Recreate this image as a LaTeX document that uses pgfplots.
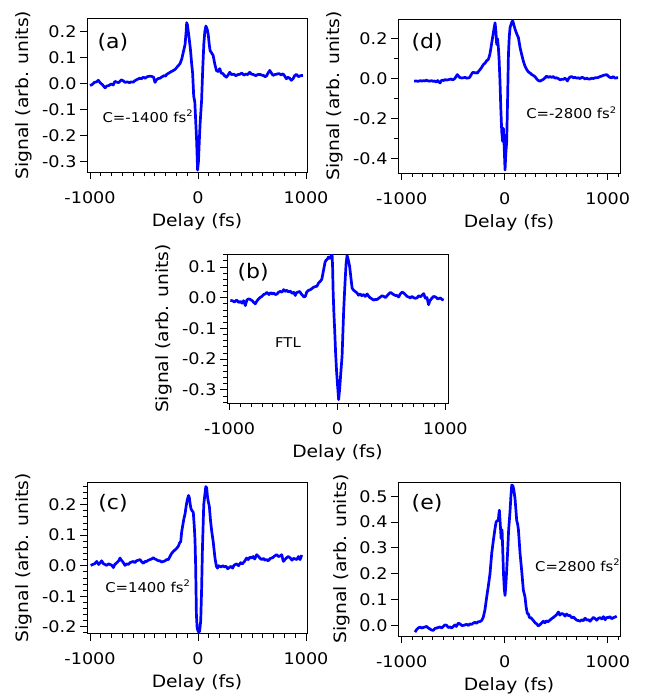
\documentclass[border=0pt]{standalone}
\usepackage{pgfplots}
\pgfplotsset{compat=1.18}
\usepackage{fontspec}
\setmainfont{DejaVu Sans}[FakeStretch=1.1]
\newcommand\ticksize{\fontsize{16}{18}\selectfont}
\newcommand\labsize{\fontsize{17}{19}\selectfont}
\newcommand\panelsize{\fontsize{20}{22}\selectfont}
\newcommand\annsize{\fontsize{13.5}{15}\selectfont}
\newcommand\sq{\raisebox{0.75ex}{\fontsize{9}{10}\selectfont 2}}
\pgfplotsset{
  panel/.style={scale only axis, anchor=north west,
    axis line style={line width=0.8pt},
    every tick/.style={black, line width=0.8pt},
    tick align=outside, xtick pos=lower, ytick pos=left,
    major tick length=7pt, minor tick length=4pt,
    xtick={-1000,0,1000}, minor xtick={-1000,-900,...,1100},
    xlabel={Delay (fs)}, ylabel={Signal (arb. units)},
    ticklabel style={font=\ticksize},
    label style={font=\labsize},
    /pgf/number format/assume math mode=true,
    /pgf/number format/1000 sep={},
    yticklabel style={/pgf/number format/fixed,/pgf/number format/fixed zerofill,/pgf/number format/precision=1},
    xticklabel style={yshift=-9pt},
    xlabel style={yshift=-3pt},
    ylabel style={yshift=3pt},
    clip=true,
  },
  sig/.style={blue, line width=2.7pt, line join=round, mark=none},
}
\begin{document}
\begin{tikzpicture}
\path[use as bounding box] (0pt,0pt) rectangle (656pt,-696pt);
% (a)
\begin{axis}[panel, at={(87pt,-18pt)}, width=220pt, height=154.5pt,
  xmin=-1028, xmax=1009, ymin=-0.343, ymax=0.252,
  ytick={-0.3,-0.2,...,0.21}]
\addplot[sig] table {
-1000 -0.008
-980 -0.004
-960 0.004
-940 0.006
-923 0.012
-905 0.002
-885 -0.005
-861 -0.017
-845 -0.010
-825 -0.008
-805 -0.002
-785 -0.006
-770 0.008
-753 0.005
-735 0.003
-710 0.014
-692 0.010
-675 0.004
-655 0.006
-635 0.003
-618 0.006
-600 0.005
-580 0.012
-560 0.016
-540 0.020
-525 0.018
-506 0.024
-490 0.020
-470 0.026
-448 0.028
-430 0.027
-412 0.024
-398 0.004
-385 0.014
-368 0.019
-352 0.020
-335 0.025
-315 0.030
-300 0.028
-290 0.035
-270 0.040
-250 0.045
-228 0.050
-210 0.055
-190 0.065
-167 0.076
-150 0.095
-136 0.121
-120 0.150
-110 0.200
-105 0.234
-98 0.225
-84 0.180
-70 0.130
-59 0.076
-50 0.040
-40 -0.050
-30 -0.070
-22 -0.140
-13 -0.220
-4 -0.334
4 -0.300
12 -0.220
20 -0.150
33 -0.066
44 0.060
54 0.154
63 0.200
73 0.221
84 0.210
94 0.190
104 0.150
112 0.126
125 0.118
140 0.108
155 0.075
170 0.050
185 0.046
201 0.057
215 0.040
230 0.038
245 0.030
262 0.024
278 0.032
293 0.043
310 0.034
330 0.036
350 0.030
368 0.034
386 0.035
405 0.040
425 0.032
445 0.036
460 0.034
478 0.043
495 0.036
515 0.034
535 0.030
552 0.034
571 0.035
590 0.032
610 0.030
620 0.026
633 0.028
648 0.040
664 0.050
680 0.040
694 0.031
710 0.034
730 0.036
750 0.038
770 0.033
787 0.037
800 0.030
818 0.018
832 0.024
848 0.020
864 0.012
880 0.018
895 0.030
910 0.035
930 0.026
950 0.030
972 0.031
};
\node[font=\panelsize] at (rel axis cs:0.118,0.844) {(a)};
\node[font=\annsize, anchor=west] at (rel axis cs:0.055,0.364) {C=-1400 fs\sq};
\end{axis}
% (d)
\begin{axis}[panel, at={(398pt,-19pt)}, width=222pt, height=154pt,
  xmin=-1036, xmax=1119, ymin=-0.474, ymax=0.299,
  ytick={-0.4,-0.2,0,0.2}, minor ytick={-0.3,-0.1,0.1}]
\addplot[sig] table {
-880 -0.013
-860 -0.012
-840 -0.014
-820 -0.010
-805 -0.013
-790 -0.010
-775 -0.012
-760 -0.008
-745 -0.012
-725 -0.013
-710 -0.010
-695 -0.014
-680 -0.012
-665 -0.018
-650 -0.010
-640 -0.016
-628 -0.022
-615 -0.010
-600 -0.008
-590 -0.010
-579 -0.005
-565 -0.008
-550 -0.006
-535 -0.004
-520 -0.002
-510 -0.006
-499 -0.005
-485 0.000
-475 0.008
-460 0.020
-448 0.012
-435 0.005
-418 0.003
-400 0.004
-385 0.006
-370 0.002
-353 0.003
-340 0.006
-325 0.020
-315 0.028
-305 0.032
-290 0.028
-278 0.030
-265 0.027
-256 0.035
-240 0.045
-225 0.055
-208 0.070
-190 0.078
-175 0.090
-159 0.096
-145 0.120
-135 0.150
-126 0.180
-115 0.215
-104 0.250
-94 0.280
-86 0.240
-78 0.171
-70 0.200
-62 0.157
-55 0.100
-46 -0.013
-38 -0.150
-29 -0.266
-20 -0.316
-13 -0.250
-7 -0.320
3 -0.459
10 -0.380
19 -0.316
28 -0.100
36 0.120
44 0.210
52 0.256
60 0.270
70 0.285
78 0.290
88 0.270
100 0.249
116 0.225
133 0.205
149 0.155
165 0.120
181 0.087
197 0.062
214 0.045
230 0.033
246 0.028
262 0.020
280 0.015
296 0.008
311 -0.002
327 -0.010
343 -0.013
360 -0.008
375 -0.004
392 0.004
407 0.012
424 0.006
440 0.010
455 0.006
472 0.010
489 0.002
505 0.004
520 0.000
537 -0.006
553 -0.004
569 -0.004
585 0.002
600 -0.006
608 -0.012
620 0.000
635 0.008
650 0.010
666 0.004
682 0.006
700 0.002
715 0.004
732 0.000
748 0.006
763 0.004
780 -0.002
796 0.002
812 -0.002
828 -0.002
845 0.002
860 0.000
877 0.004
893 0.004
910 0.006
925 0.010
940 0.012
957 0.016
973 0.018
990 0.020
1005 0.012
1020 0.006
1038 0.004
1055 0.010
1070 0.002
1087 0.004
1100 0.004
};
\node[font=\panelsize] at (rel axis cs:0.131,0.85) {(d)};
\node[font=\annsize, anchor=west] at (rel axis cs:0.562,0.39) {C=-2800 fs\sq};
\end{axis}
% (b)
\begin{axis}[panel, at={(227pt,-254pt)}, width=221pt, height=149pt,
  xmin=-1024, xmax=1025, ymin=-0.343, ymax=0.142,
  ytick={-0.3,-0.2,...,0.11}, minor ytick={-0.34,-0.32,...,0.141}]
\addplot[sig] table {
-993 -0.009
-975 -0.010
-955 -0.014
-935 -0.008
-915 -0.016
-901 -0.012
-885 -0.018
-870 -0.010
-854 -0.026
-840 -0.008
-825 -0.004
-808 -0.006
-790 -0.010
-775 -0.016
-761 -0.020
-745 -0.010
-730 -0.004
-715 0.001
-700 0.004
-685 0.010
-670 0.012
-653 0.017
-635 0.010
-620 0.016
-605 0.012
-592 0.015
-575 0.010
-560 0.012
-545 0.018
-530 0.020
-515 0.018
-499 0.026
-485 0.020
-470 0.024
-455 0.019
-437 0.021
-420 0.014
-405 0.017
-391 0.007
-380 0.016
-365 0.018
-350 0.020
-335 0.012
-320 0.006
-310 0.002
-298 0.004
-285 0.018
-267 0.024
-250 0.026
-235 0.030
-220 0.034
-205 0.036
-190 0.037
-175 0.048
-159 0.053
-145 0.060
-135 0.078
-128 0.091
-115 0.115
-105 0.122
-96 0.124
-84 0.132
-75 0.128
-66 0.129
-58 0.138
-50 0.143
-45 0.100
-40 0.020
-33 -0.050
-25 -0.110
-17 -0.180
-8 -0.240
2 -0.290
11 -0.332
20 -0.300
30 -0.250
43 -0.190
52 -0.100
58 -0.040
64 0.004
72 0.060
80 0.110
89 0.137
97 0.128
105 0.115
113 0.102
120 0.080
128 0.055
136 0.031
150 0.024
165 0.020
182 0.015
195 0.008
210 0.012
225 0.006
243 0.010
258 0.004
275 0.012
290 0.004
305 -0.001
320 -0.004
335 -0.008
350 -0.006
367 -0.006
383 -0.002
398 0.002
414 0.006
429 0.004
445 0.000
460 0.006
475 0.012
491 0.017
505 0.014
520 0.010
538 0.007
553 0.007
567 0.002
582 0.012
600 0.018
614 0.015
630 0.010
645 0.004
660 0.002
676 -0.001
690 0.004
705 0.000
720 -0.002
738 -0.001
752 0.006
770 0.003
785 0.008
800 0.013
815 -0.002
830 0.000
838 -0.012
845 -0.023
855 -0.012
870 -0.004
892 0.004
910 0.002
930 -0.004
955 -0.001
970 -0.006
985 -0.008
};
\node[font=\panelsize] at (rel axis cs:0.118,0.879) {(b)};
\node[font=\annsize, anchor=west] at (rel axis cs:0.202,0.403) {FTL};
\end{axis}
% (c)
\begin{axis}[panel, at={(87pt,-482pt)}, width=220pt, height=151.5pt,
  xmin=-1028, xmax=1009, ymin=-0.222, ymax=0.274,
  ytick={-0.2,-0.1,...,0.21}, minor ytick={-0.22,-0.20,...,0.27}]
\addplot[sig] table {
-994 0.001
-975 0.004
-958 0.006
-938 0.014
-920 0.004
-905 0.010
-892 0.016
-875 0.006
-860 0.004
-846 0.001
-830 0.006
-815 0.004
-800 0.002
-784 -0.006
-770 0.004
-752 0.010
-735 0.016
-722 0.025
-710 0.018
-695 0.012
-676 0.001
-660 0.006
-645 0.004
-630 0.010
-615 0.012
-599 0.014
-585 0.010
-570 0.016
-552 0.018
-537 0.020
-520 0.012
-505 0.008
-490 0.014
-476 0.014
-460 0.018
-445 0.020
-430 0.022
-414 0.026
-400 0.022
-385 0.020
-368 0.016
-352 0.016
-338 0.012
-320 0.014
-305 0.016
-290 0.020
-275 0.020
-260 0.030
-245 0.040
-228 0.047
-212 0.052
-197 0.057
-182 0.064
-170 0.075
-160 0.079
-151 0.112
-140 0.135
-130 0.155
-120 0.170
-110 0.195
-100 0.215
-88 0.230
-80 0.222
-72 0.200
-64 0.185
-55 0.180
-44 0.175
-35 0.130
-28 0.085
-22 0.000
-15 -0.160
-8 -0.205
0 -0.214
8 -0.218
15 -0.214
25 -0.180
33 -0.080
41 0.058
53 0.200
63 0.232
72 0.259
80 0.255
88 0.225
95 0.210
105 0.194
115 0.150
127 0.112
140 0.080
157 0.025
170 -0.002
180 -0.008
190 0.000
201 -0.002
215 -0.004
230 0.000
245 -0.004
260 -0.002
275 -0.010
290 -0.006
305 -0.002
320 -0.008
335 0.002
358 0.006
375 0.000
395 0.010
410 0.006
430 0.014
450 0.025
465 0.020
480 0.028
495 0.025
510 0.030
525 0.022
543 0.036
560 0.030
575 0.024
590 0.020
605 0.024
620 0.018
636 0.020
650 0.016
670 0.024
690 0.026
710 0.032
728 0.036
745 0.030
760 0.032
775 0.036
790 0.014
805 0.020
820 0.026
835 0.030
852 0.026
870 0.018
885 0.024
900 0.022
914 0.020
930 0.030
945 0.020
960 0.035
};
\node[font=\panelsize] at (rel axis cs:0.118,0.861) {(c)};
\node[font=\annsize, anchor=west] at (rel axis cs:0.067,0.311) {C=1400 fs\sq};
\end{axis}
% (e)
\begin{axis}[panel, at={(398pt,-482pt)}, width=222pt, height=154pt,
  xmin=-1036, xmax=1119, ymin=-0.041, ymax=0.555,
  ytick={0,0.1,...,0.51}]
\addplot[sig] table {
-871 -0.026
-855 -0.016
-840 -0.010
-823 -0.006
-808 -0.010
-790 -0.008
-775 -0.006
-758 -0.004
-742 -0.010
-725 -0.014
-710 -0.018
-693 -0.019
-678 -0.012
-660 -0.010
-645 -0.008
-628 -0.006
-612 -0.010
-596 -0.004
-580 0.002
-563 0.000
-548 -0.008
-530 -0.006
-515 -0.010
-500 -0.004
-485 0.002
-470 -0.004
-450 0.009
-435 0.006
-418 0.000
-402 0.000
-385 0.002
-370 0.004
-352 0.000
-338 0.006
-320 0.004
-305 0.009
-290 0.012
-275 0.008
-258 0.014
-240 0.015
-224 0.019
-208 0.032
-192 0.060
-175 0.110
-160 0.150
-143 0.200
-126 0.280
-110 0.330
-96 0.370
-84 0.400
-74 0.405
-62 0.407
-57 0.430
-52 0.446
-46 0.410
-40 0.370
-35 0.336
-30 0.350
-26 0.370
-20 0.300
-12 0.200
-4 0.140
3 0.116
10 0.150
19 0.213
30 0.300
38 0.370
45 0.407
52 0.445
60 0.500
68 0.543
80 0.540
90 0.520
100 0.490
108 0.450
116 0.407
126 0.390
133 0.370
149 0.278
165 0.210
181 0.136
197 0.110
208 0.070
220 0.045
230 0.045
240 0.030
255 0.030
262 0.026
280 0.018
295 0.010
311 0.006
325 -0.002
340 0.002
355 0.008
375 0.016
390 0.010
405 0.018
420 0.014
440 0.021
455 0.026
470 0.030
488 0.036
505 0.042
521 0.052
535 0.040
552 0.046
569 0.044
585 0.036
600 0.044
617 0.038
634 0.038
650 0.030
668 0.032
683 0.026
700 0.020
715 0.019
730 0.016
748 0.022
763 0.018
780 0.028
796 0.021
812 0.022
828 0.016
845 0.024
861 0.031
878 0.026
893 0.020
910 0.028
926 0.030
942 0.025
958 0.034
975 0.022
990 0.031
1005 0.030
1020 0.034
1038 0.026
1055 0.030
1070 0.032
1087 0.036
};
\node[font=\panelsize] at (rel axis cs:0.131,0.864) {(e)};
\node[font=\annsize, anchor=west] at (rel axis cs:0.602,0.461) {C=2800 fs\sq};
\end{axis}
\end{tikzpicture}
\end{document}
